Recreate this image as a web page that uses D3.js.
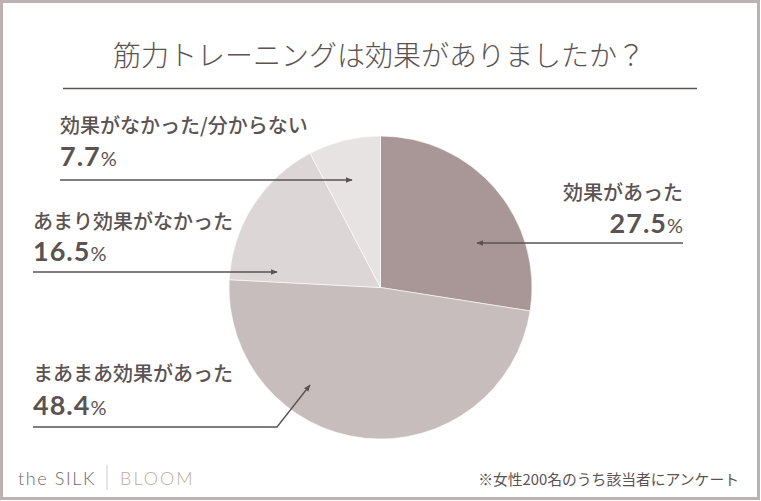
<!DOCTYPE html>
<html><head><meta charset="utf-8">
<script src="https://cdn.jsdelivr.net/npm/d3@7"></script>
<style>html,body{margin:0;padding:0;background:#fff;}svg{display:block;}</style>
</head><body>
<svg id="c" width="761" height="501"></svg>
<script>
const title = "筋力トレーニングは効果がありましたか？";
const categories = ["効果があった", "まあまあ効果があった", "あまり効果がなかった", "効果がなかった/分からない"];
const values = [27.5, 48.4, 16.5, 7.7];
const colors = ["#a99797", "#c8bdbd", "#ddd6d6", "#e8e3e3"];
const footnote = "※女性200名のうち該当者にアンケート";

// label layout: text anchor position, arrow path (start, optional elbow), arrow tip relative to pie centre
const layout = [
  {x: 683, y: 199.5, anchor: "end",   gap: 33, line: [[683, 243]], tip: [96.5, -44.5]},
  {x: 33,  y: 380.5, anchor: "start", gap: 34.5, line: [[33, 427], [277, 427]], tip: [-70.5, 97.5]},
  {x: 33,  y: 228.5, anchor: "start", gap: 32, line: [[33, 272]], tip: [-103.5, -15.5]},
  {x: 60,  y: 132.5, anchor: "start", gap: 33, line: [[60, 180]], tip: [-28.5, -107.5]}
];

const W = 761, H = 501;
const cx = 380.5, cy = 287.5, R = 151.5;
const svg = d3.select("#c");
const textCol = "#5b5252";
const jp = "'Noto Sans CJK JP','Noto Sans',sans-serif";
const num = "Lato,'Noto Sans',sans-serif";

// border
svg.append("rect").attr("x", 1.5).attr("y", 1.5).attr("width", W - 4).attr("height", H - 4)
  .attr("fill", "#fff").attr("stroke", "#bcb2b2").attr("stroke-width", 3);

// title
svg.append("text").attr("x", 379).attr("y", 66).attr("text-anchor", "middle")
  .attr("font-family", jp).attr("font-weight", 300).attr("font-size", 28)
  .attr("fill", textCol).text(title);
svg.append("line").attr("x1", 63).attr("x2", 697).attr("y1", 88.5).attr("y2", 88.5)
  .attr("stroke", "#5b5252").attr("stroke-width", 1.3);

// pie
const pie = d3.pie().sort(null).value(d => d)(values);
const arc = d3.arc().innerRadius(0).outerRadius(R);
const g = svg.append("g").attr("transform", `translate(${cx},${cy})`);
g.selectAll("path").data(pie).join("path")
  .attr("d", arc).attr("fill", (d, i) => colors[i])
  .attr("stroke", "#fff").attr("stroke-width", 0.6);

// arrow marker
svg.append("defs").append("marker").attr("id", "ah")
  .attr("viewBox", "0 0 10 10").attr("refX", 9).attr("refY", 5)
  .attr("markerWidth", 7).attr("markerHeight", 7).attr("markerUnits", "userSpaceOnUse")
  .attr("orient", "auto")
  .append("path").attr("d", "M0,1 L10,5 L0,9 Z").attr("fill", "#5b5252");

// labels
categories.forEach((c, i) => {
  const L = layout[i];
  svg.append("text").attr("x", L.x).attr("y", L.y).attr("text-anchor", L.anchor)
    .attr("font-family", jp).attr("font-weight", 500).attr("font-size", 20)
    .attr("fill", textCol).text(c);
  const t = svg.append("text").attr("x", L.x).attr("y", L.y + L.gap)
    .attr("text-anchor", L.anchor).attr("fill", textCol).attr("font-family", num);
  t.append("tspan").attr("font-weight", 700).attr("font-size", 27).attr("letter-spacing", 1)
    .text(d3.format(".1f")(values[i]));
  t.append("tspan").attr("font-weight", 400).attr("font-size", 20).text("%");
  const pts = L.line.concat([[cx + L.tip[0], cy + L.tip[1]]]);
  svg.append("path").attr("d", d3.line()(pts)).attr("fill", "none")
    .attr("stroke", "#5b5252").attr("stroke-width", 1.4).attr("marker-end", "url(#ah)");
});

// footer logo
svg.append("text").attr("x", 18).attr("y", 485).attr("font-family", "Lato, 'Open Sans', sans-serif")
  .attr("font-weight", 300).attr("font-size", 18).attr("letter-spacing", 1.6).attr("fill", "#6e6868").text("the SILK");
svg.append("line").attr("x1", 107).attr("x2", 107).attr("y1", 465).attr("y2", 490)
  .attr("stroke", "#cfcaca").attr("stroke-width", 1);
svg.append("text").attr("x", 120).attr("y", 485).attr("font-family", "Lato, 'Open Sans', sans-serif")
  .attr("font-weight", 300).attr("font-size", 18).attr("letter-spacing", 2).attr("fill", "#c0ac9a").text("BLOOM");

// footnote
svg.append("text").attr("x", 739).attr("y", 485).attr("text-anchor", "end")
  .attr("font-family", jp).attr("font-weight", 400).attr("font-size", 14.8)
  .attr("fill", textCol).text(footnote);
</script>
</body></html>
